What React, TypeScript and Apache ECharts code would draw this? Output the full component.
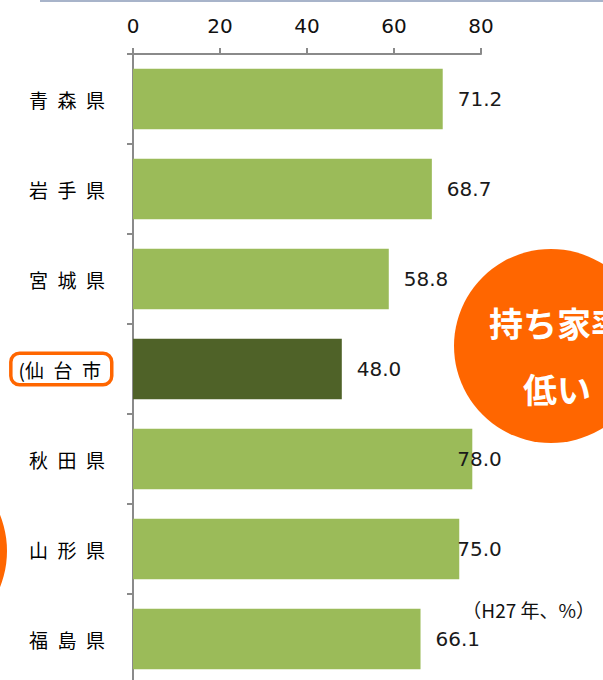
import React, { useEffect, useRef } from "react";
import * as echarts from "echarts";

const categories = ["青森県", "岩手県", "宮城県", "(仙台市", "秋田県", "山形県", "福島県"];
const values = [71.2, 68.7, 58.8, 48.0, 78.0, 75.0, 66.1];
const highlightIndex = 3;
const xTicks = [0, 20, 40, 60, 80];
const unitNote = "（H27 年、%）";
const bubbleLines = ["持ち家率", "低い"];

const labelOffsets: Record<number, [number, number]> = { 4: [-30, 0], 5: [-17, 0] };

function spaced(s: string) {
  return s.split("").join("\u2002").replace("(\u2002", "(");
}

export default function App() {
  const ref = useRef<HTMLDivElement>(null);
  useEffect(() => {
    if (!ref.current) return;
    const chart = echarts.init(ref.current, undefined, { renderer: "svg" });
    const data = values.map((v, i) => {
      const item: any = {
        value: v,
        itemStyle: { color: i === highlightIndex ? "#4f6228" : "#9bbb59" },
      };
      if (labelOffsets[i]) item.label = { offset: labelOffsets[i] };
      return item;
    });
    chart.setOption({
      animation: false,
      backgroundColor: "#ffffff",
      grid: { left: 133, top: 54, width: 348, bottom: 6, containLabel: false },
      xAxis: {
        type: "value",
        position: "top",
        min: xTicks[0],
        max: xTicks[xTicks.length - 1],
        interval: 20,
        axisLine: { show: true, lineStyle: { color: "#8a8a8a", width: 2 } },
        axisTick: { show: true, length: 6, lineStyle: { color: "#8a8a8a", width: 2 } },
        splitLine: { show: false },
        axisLabel: {
          margin: 18,
          color: "#111",
          fontSize: 20,
          fontFamily: "DejaVu Sans",
        },
      },
      yAxis: {
        type: "category",
        inverse: true,
        data: categories,
        axisLine: { show: true, lineStyle: { color: "#8a8a8a", width: 2 } },
        axisTick: { show: true, length: 6, lineStyle: { color: "#8a8a8a", width: 2 } },
        axisLabel: {
          margin: 23,
          formatter: (val: string, idx: number) =>
            idx === highlightIndex ? `{b|${spaced(val)}}` : `{n|${spaced(val)}}`,
          rich: {
            n: {
              fontSize: 19,
              color: "#000",
              fontFamily: "Noto Sans CJK JP",
              padding: [0, 5, 0, 0],
            },
            b: {
              fontSize: 19,
              color: "#000",
              fontFamily: "Noto Sans CJK JP",
              lineHeight: 22,
              padding: [5, 9, 4, 6],
              borderColor: "#ff6600",
              borderWidth: 3.5,
              borderRadius: 7,
              backgroundColor: "#ffffff",
            },
          },
        },
      },
      series: [
        {
          type: "bar",
          data,
          barCategoryGap: "33%",
          z: 1,
          label: {
            show: true,
            position: "right",
            distance: 15,
            color: "#1a1a1a",
            fontSize: 20,
            fontFamily: "DejaVu Sans",
            formatter: (p: any) => Number(p.value).toFixed(1),
          },
        },
      ],
      graphic: [
        {
          type: "line",
          shape: { x1: 40, y1: 1, x2: 603, y2: 1 },
          style: { stroke: "#a8b4ca", lineWidth: 2 },
        },
        {
          type: "circle",
          shape: { cx: 551, cy: 346, r: 97 },
          style: { fill: "#ff6600" },
          z: 10,
        },
        {
          type: "text",
          x: 557,
          y: 322,
          z: 11,
          style: {
            text: bubbleLines[0],
            fill: "#ffffff",
            fontSize: 34,
            fontWeight: "bold",
            fontFamily: "Noto Sans CJK JP",
            align: "center",
            verticalAlign: "middle",
          },
        },
        {
          type: "text",
          x: 557,
          y: 388,
          z: 11,
          style: {
            text: bubbleLines[1],
            fill: "#ffffff",
            fontSize: 34,
            fontWeight: "bold",
            fontFamily: "Noto Sans CJK JP",
            align: "center",
            verticalAlign: "middle",
          },
        },
        {
          type: "circle",
          shape: { cx: -90, cy: 551, r: 97 },
          style: { fill: "#ff6600" },
          z: 10,
        },
        {
          type: "text",
          x: 595,
          y: 609,
          z: 11,
          style: {
            text: unitNote,
            fill: "#111",
            fontSize: 19,
            fontFamily: "Noto Sans CJK JP",
            align: "right",
            verticalAlign: "middle",
          },
        },
      ],
    });
    return () => chart.dispose();
  }, []);
  return (
    <div
      ref={ref}
      style={{ position: "fixed", left: 0, top: 0, width: 603, height: 690 }}
    />
  );
}
